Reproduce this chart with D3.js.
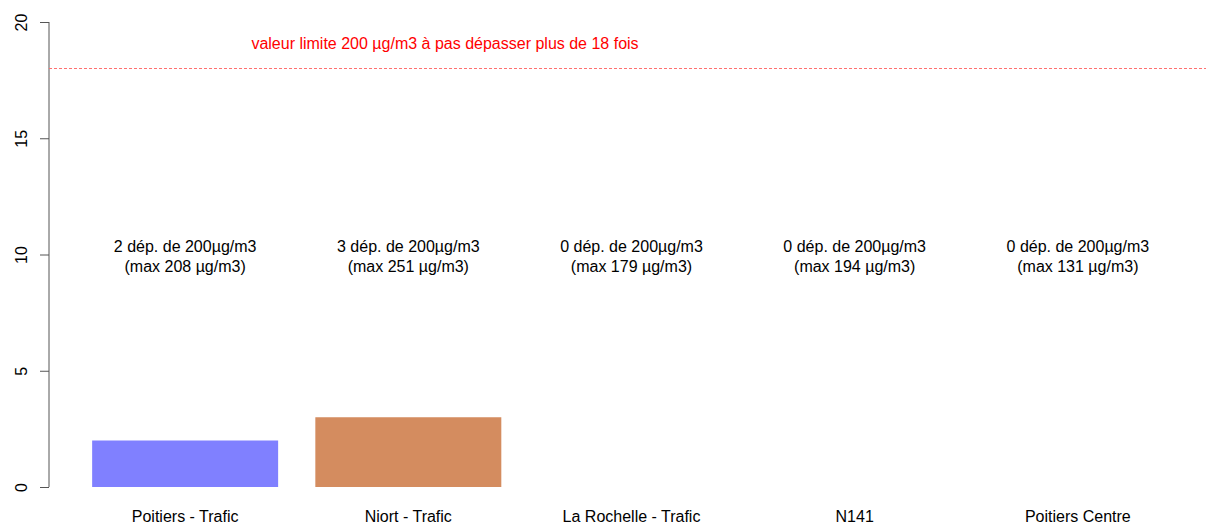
<!DOCTYPE html>
<html>
<head>
<meta charset="utf-8">
<script src="https://cdn.jsdelivr.net/npm/d3@7"></script>
<style>
  body { margin: 0; background: #fff; }
  text { font-family: "Liberation Sans", Arial, sans-serif; }
</style>
</head>
<body>
<div id="chart"></div>
<script>
// data
var stations = ["Poitiers - Trafic", "Niort - Trafic", "La Rochelle - Trafic", "N141", "Poitiers Centre"];
var depassements = [2, 3, 0, 0, 0];
var maxValues = [208, 251, 179, 194, 131];
var barColors = ["#8080ff", "#d48c5f", "#8080ff", "#8080ff", "#8080ff"];
var yTicks = [0, 5, 10, 15, 20];
var limite = 18;
var limiteLabel = "valeur limite 200 µg/m3 à pas dépasser plus de 18 fois";

var width = 1206, height = 525;

var svg = d3.select('#chart').append('svg')
  .attr('width', width)
  .attr('height', height);

// barplot-like layout: bar width 1, space 0.2
var x = d3.scaleLinear()
  .domain([-0.032, 6.232])
  .range([49, 1214]);
var y = d3.scaleLinear()
  .domain([0, 20])
  .range([487, 22]);

var barLeft = function(i) { return 0.2 + i * 1.2; };
var barMid = function(i) { return barLeft(i) + 0.5; };

// y axis
var yaxis = d3.axisLeft(y).tickValues(yTicks).tickSize(9).tickFormat(d3.format('d'));
var gy = svg.append('g')
  .attr('transform', 'translate(49,0)')
  .call(yaxis);
gy.select('.domain').attr('stroke', '#555').attr('d', 'M0,' + y(0) + 'V' + y(20));
gy.selectAll('.tick line').attr('stroke', '#555');
// rotated labels, centred on the tick
gy.selectAll('.tick text')
  .attr('font-size', 16)
  .attr('fill', '#000')
  .attr('font-family', '"Liberation Sans", Arial, sans-serif')
  .attr('x', null).attr('y', null)
  .attr('text-anchor', 'middle')
  .attr('transform', 'translate(-28,0) rotate(-90)')
  .attr('dy', '0.35em');

// bars
svg.selectAll('rect.bar')
  .data(depassements)
  .enter().append('rect')
  .attr('class', 'bar')
  .attr('x', function(d, i) { return x(barLeft(i)); })
  .attr('width', function(d, i) { return x(barLeft(i) + 1) - x(barLeft(i)); })
  .attr('y', function(d) { return y(d); })
  .attr('height', function(d) { return y(0) - y(d); })
  .attr('fill', function(d, i) { return barColors[i]; });

// category labels
svg.selectAll('text.cat')
  .data(stations)
  .enter().append('text')
  .attr('class', 'cat')
  .attr('x', function(d, i) { return x(barMid(i)); })
  .attr('y', 522)
  .attr('text-anchor', 'middle')
  .attr('font-size', 16)
  .text(function(d) { return d; });

// annotation above each bar
var annot = svg.selectAll('text.annot')
  .data(stations)
  .enter().append('text')
  .attr('class', 'annot')
  .attr('text-anchor', 'middle')
  .attr('font-size', 16);
annot.append('tspan')
  .attr('x', function(d, i) { return x(barMid(i)); })
  .attr('y', 252)
  .text(function(d, i) { return depassements[i] + ' dép. de 200µg/m3'; });
annot.append('tspan')
  .attr('x', function(d, i) { return x(barMid(i)); })
  .attr('y', 272)
  .text(function(d, i) { return '(max ' + maxValues[i] + ' µg/m3)'; });

// limit line
svg.append('line')
  .attr('x1', 49).attr('x2', width)
  .attr('y1', y(limite)).attr('y2', y(limite))
  .attr('stroke', '#ff7070')
  .attr('stroke-width', 1)
  .attr('stroke-dasharray', '3,2');

svg.append('text')
  .attr('x', 445)
  .attr('y', 49)
  .attr('text-anchor', 'middle')
  .attr('font-size', 16)
  .attr('fill', '#ff0000')
  .text(limiteLabel);
</script>
</body>
</html>
